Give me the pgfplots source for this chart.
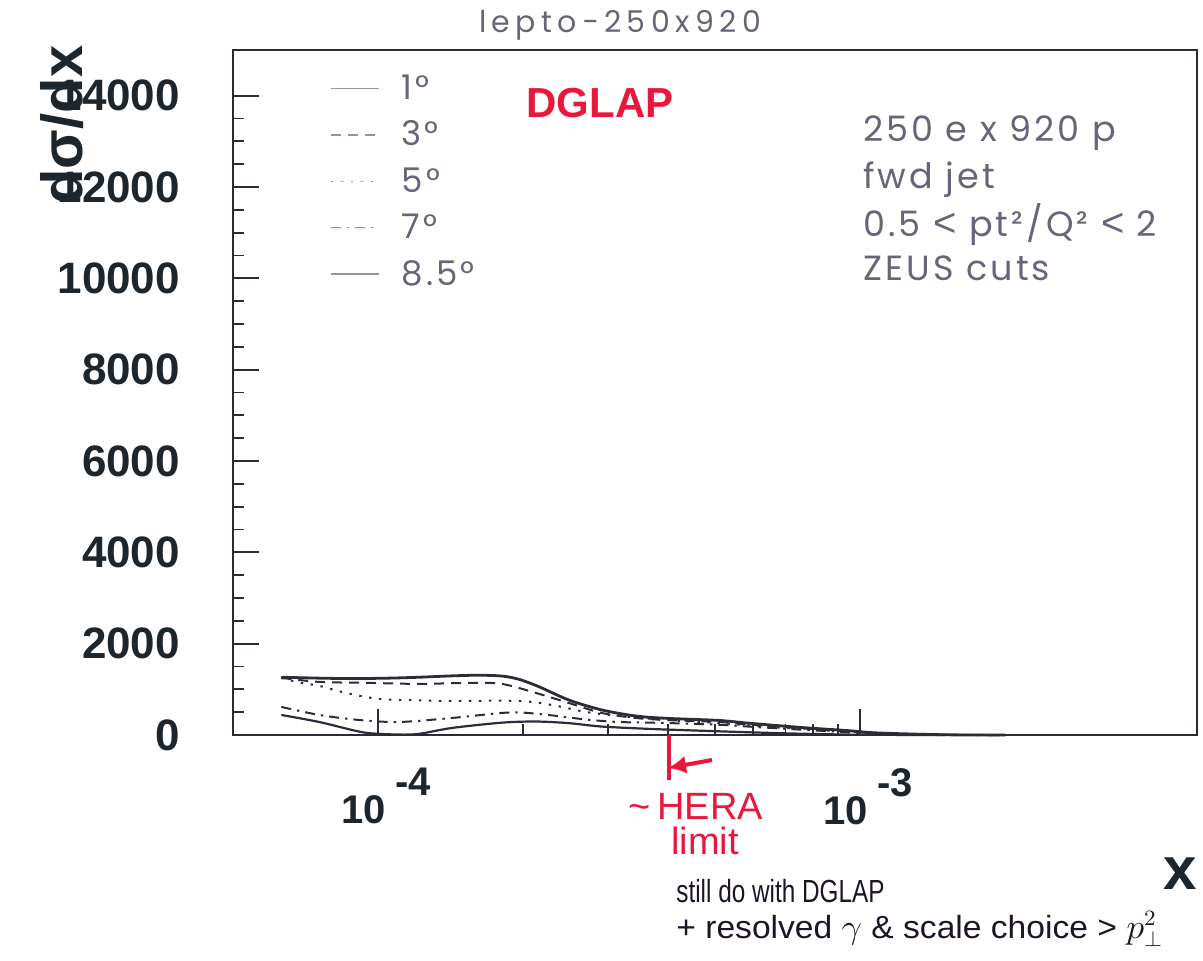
\documentclass[border=0pt]{standalone}
\usepackage{fontspec}
\usepackage{pgfplots}
\pgfplotsset{compat=1.18}
\usetikzlibrary{arrows.meta}
\setmainfont{Poppins}
\newfontfamily\geo[LetterSpace=9]{Poppins}
\newfontfamily\geotitle[LetterSpace=18]{Poppins}
\newfontfamily\hfont{Liberation Sans}
\newfontfamily\hand{Liberation Sans}

\definecolor{frame}{HTML}{2A2A38}
\definecolor{curve}{HTML}{2C2C36}
\definecolor{legtxt}{HTML}{66667A}
\definecolor{legline}{HTML}{9292AC}
\definecolor{ann}{HTML}{E8183C}
\definecolor{ink}{HTML}{1E1428}
\definecolor{lab}{HTML}{1C262C}

\begin{document}
\begin{tikzpicture}
\useasboundingbox (0,0) rectangle (601.5pt,-480.5pt);
\begin{axis}[
  at={(116.5pt,-367.5pt)}, anchor=south west,
  width=482pt, height=342.5pt, scale only axis,
  xmode=log, xmin=5e-5, xmax=5e-3,
  ymin=0, ymax=15000,
  scaled y ticks=false,
  clip=false,
  axis line style={frame, line width=1.2pt},
  tick pos=left, tick align=inside,
  major tick length=13pt, minor tick length=5.5pt,
  every tick/.style={frame, line width=0.9pt},
  ytick={0,2000,4000,6000,8000,10000,12000,14000},
  yticklabels={0,2000,4000,6000,8000,10000,12000,14000},
  minor y tick num=3,
  xtick={1e-4,1e-3},
  xticklabels={{10\hspace{5pt}\raisebox{14pt}{-4}},{10\hspace{5pt}\raisebox{14pt}{-3}}},
  yticklabel style={font=\hfont\bfseries\fontsize{22}{22}\selectfont, text=lab, xshift=-23pt},
  xticklabel style={font=\hfont\bfseries\fontsize{20}{20}\selectfont, text=lab, yshift=-13pt, xshift=4pt},
  legend style={draw=none, fill=none, at={(rel axis cs:0.1006,0.972)}, anchor=north west,
    inner sep=0pt, row sep=4.2pt, font=\geo\fontsize{17}{17}\selectfont, text=legtxt,
    nodes={text height=13pt, text depth=2pt, inner sep=2pt},
    /tikz/column 2/.style={column sep=0pt}, /tikz/column 1/.style={column sep=9pt}},
  legend cell align=left,
  legend image code/.code={\draw[#1, draw=legline, line width=0.7pt] (0pt,0pt) -- (24pt,0pt);},
  every axis plot/.append style={curve, smooth, tension=0.5},
]
% 1 degree
\addplot[line width=1.4pt] coordinates {
 (6.30e-5,1265) (7.55e-5,1245) (8.83e-5,1236) (1.05e-4,1245) (1.216e-4,1265)
 (1.423e-4,1295) (1.62e-4,1309) (1.81e-4,1290) (1.96e-4,1220) (2.154e-4,1060)
 (2.485e-4,768) (2.91e-4,549) (3.42e-4,417) (3.95e-4,366) (5.08e-4,320)
 (5.86e-4,260) (7.44e-4,170) (9.45e-4,95) (1.09e-3,45) (1.5e-3,5) (2.0e-3,0)};
\addlegendentry{1°}
% 3 degrees
\addplot[line width=1.0pt, dash pattern=on 5pt off 3.5pt] coordinates {
 (6.30e-5,1251) (7.55e-5,1163) (9.58e-5,1141) (1.216e-4,1119) (1.543e-4,1141)
 (1.806e-4,1119) (2.124e-4,922) (2.485e-4,702) (2.91e-4,483) (3.42e-4,373)
 (3.95e-4,329) (5.08e-4,285) (5.86e-4,230) (7.44e-4,150) (9.45e-4,80)
 (1.09e-3,35) (1.5e-3,4) (2.0e-3,0)};
\addlegendentry{3°}
% 5 degrees
\addplot[line width=1.0pt, dash pattern=on 1.2pt off 3.8pt] coordinates {
 (6.30e-5,1250) (6.86e-5,1150) (7.55e-5,1075) (8.58e-5,922) (1.005e-4,790)
 (1.216e-4,760) (1.423e-4,746) (1.958e-4,746) (2.292e-4,658) (2.696e-4,505)
 (3.155e-4,417) (3.95e-4,329) (5.08e-4,265) (5.86e-4,210) (7.44e-4,135)
 (9.45e-4,70) (1.09e-3,30) (1.5e-3,3) (2.0e-3,0)};
\addlegendentry{5°}
% 7 degrees
\addplot[line width=1.0pt, dash pattern=on 5pt off 3pt on 1.2pt off 3pt] coordinates {
 (6.30e-5,615) (7.55e-5,439) (9.13e-5,329) (1.105e-4,285) (1.423e-4,373)
 (1.806e-4,483) (2.0e-4,490) (2.292e-4,430) (2.696e-4,340) (3.155e-4,285)
 (3.95e-4,263) (5.08e-4,225) (5.86e-4,185) (7.44e-4,120) (9.45e-4,60)
 (1.09e-3,25) (1.5e-3,3) (2.0e-3,0)};
\addlegendentry{7°}
% 8.5 degrees
\addplot[line width=1.1pt] coordinates {
 (6.30e-5,439) (7.55e-5,285) (8.83e-5,110) (9.58e-5,40) (1.1e-4,10)
 (1.216e-4,25) (1.423e-4,154) (1.806e-4,270) (2.124e-4,295) (2.485e-4,260)
 (2.91e-4,185) (3.69e-4,132) (4.5e-4,100) (5.86e-4,60) (7.44e-4,30)
 (1.0e-3,6) (1.5e-3,0)};
\addlegendentry{8.5°}
\end{axis}

\begin{scope}[x=0.5pt, y=-0.5pt]
  % title
  \node[text=legtxt, font=\geotitle\fontsize{15}{15}\selectfont] at (620,25) {lepto−250x920};
  % axis labels
  \node[rotate=90, text=lab, font=\hfont\bfseries\fontsize{29}{29}\selectfont] at (62,125) {dσ/dx};
  \node[text=lab, inner sep=0pt, font=\hfont\bfseries\fontsize{30}{30}\selectfont] at (1180,874) {x};
  % run description
  \node[anchor=west, text=legtxt, font=\geo\fontsize{17.5}{17.5}\selectfont] at (856,133) {250 e x 920 p};
  \node[anchor=west, text=legtxt, font=\geo\fontsize{17.5}{17.5}\selectfont] at (856,180) {fwd jet};
  \node[anchor=west, text=legtxt, font=\geo\fontsize{17.5}{17.5}\selectfont] at (856,225) {0.5 {\hfont\fontsize{20}{20}\selectfont<} pt²/Q² {\hfont\fontsize{20}{20}\selectfont<} 2};
  \node[anchor=west, text=legtxt, font=\geo\fontsize{17.5}{17.5}\selectfont] at (856,268) {ZEUS cuts};
  % hand annotations
  \node[text=ann, font=\hand\bfseries\fontsize{21}{21}\selectfont] at (600,103) {DGLAP};
  \draw[ann, line width=1.6pt] (669,735) -- (669,780);
  \draw[ann, line width=2pt, -{Latex[length=9pt,width=9pt]}] (712,760) -- (668,768);
  \node[text=ann, font=\hand\fontsize{19}{19}\selectfont] at (696,806) {\textasciitilde\,HERA};
  \node[text=ann, font=\hand\fontsize{19}{19}\selectfont] at (705,841) {limit};
  \node[anchor=west, text=ink, inner sep=0pt, font=\hand\fontsize{16}{16}\selectfont] at (676,891) {\scalebox{0.76}[1]{still do with DGLAP}};
  \node[anchor=west, text=ink, inner sep=0pt, font=\hand\fontsize{16}{16}\selectfont] at (676,929) {\scalebox{1.05}[1]{+ resolved $\gamma$ \& scale choice > $p_\perp^2$}};
\end{scope}
\end{tikzpicture}
\end{document}
